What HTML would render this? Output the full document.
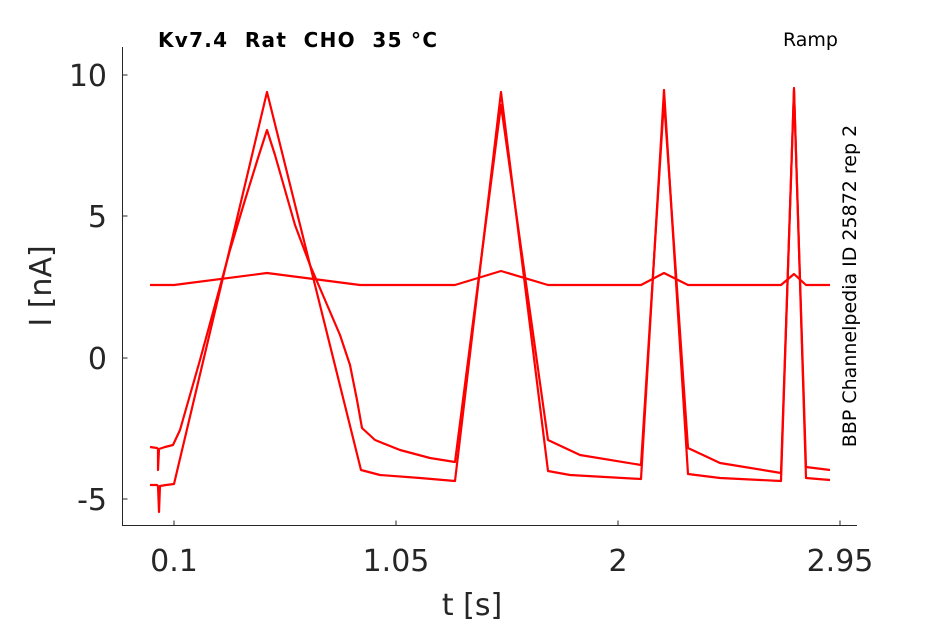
<!DOCTYPE html>
<html><head><meta charset="utf-8"><style>
body{margin:0;background:#fff}
svg{display:block}
text{font-family:"DejaVu Sans","Liberation Sans",sans-serif;fill:#262626}
</style></head><body>
<svg width="945" height="624" viewBox="0 0 945 624" xmlns="http://www.w3.org/2000/svg">
<g stroke="#262626" stroke-width="1" fill="none">
<path d="M122.5,47 V525.5 H857"/>
<path d="M174,525.5v-5 M396,525.5v-5 M618,525.5v-5 M840,525.5v-5"/>
<path d="M122.5,75h5 M122.5,216h5 M122.5,358h5 M122.5,499h5"/>
</g>
<g font-size="30" text-anchor="middle">
<text x="174" y="571">0.1</text><text x="396" y="571">1.05</text><text x="618" y="571">2</text><text x="840" y="571">2.95</text>
</g>
<g font-size="30" text-anchor="end">
<text x="107" y="86">10</text><text x="107" y="227">5</text><text x="107" y="369">0</text><text x="107" y="510">-5</text>
</g>
<text x="472" y="615" font-size="30" text-anchor="middle">t [s]</text>
<text transform="translate(51,286) rotate(-90)" font-size="30" text-anchor="middle">I [nA]</text>
<text x="158" y="47" font-size="20" font-weight="bold" textLength="279" lengthAdjust="spacing" style="fill:#000">Kv7.4&#160;&#160;Rat&#160;&#160;CHO&#160;&#160;35 °C</text>
<text x="838" y="46" font-size="19" text-anchor="end" style="fill:#000">Ramp</text>
<text transform="translate(856,286) rotate(-90)" font-size="19" text-anchor="middle" style="fill:#000">BBP Channelpedia ID 25872 rep 2</text>
<g stroke="#ff0000" stroke-width="2.2" fill="none" stroke-linejoin="round">
<polyline points="150,485 157,485 158,486 159,512 160,486 166,485 174,484 267,92 361,470 380,475 420,478 455,481 501,92 548,471 570,475 641,479 664,90 688,474 720,478 781,481 794,88 806,478 830,480"/>
<polyline points="150,447 157,448 158,449 158,470 159,449 165,447 173,445 180,430 190,395 200,360 215,305 230,250 245,200 258,158 267,130 275,155 285,190 295,225 310,265 325,300 340,335 350,365 357,400 362,428 375,440 400,450 430,458 455,462 501,105 548,440 580,455 641,465 664,100 688,448 720,463 781,473 794,90 806,467 830,470"/>
<polyline points="150,285 174,285 267,273 360,285 455,285 501,271 548,285 641,285 664,273 688,285 781,285 794,274 806,285 830,285"/>
</g>
</svg>
</body></html>
